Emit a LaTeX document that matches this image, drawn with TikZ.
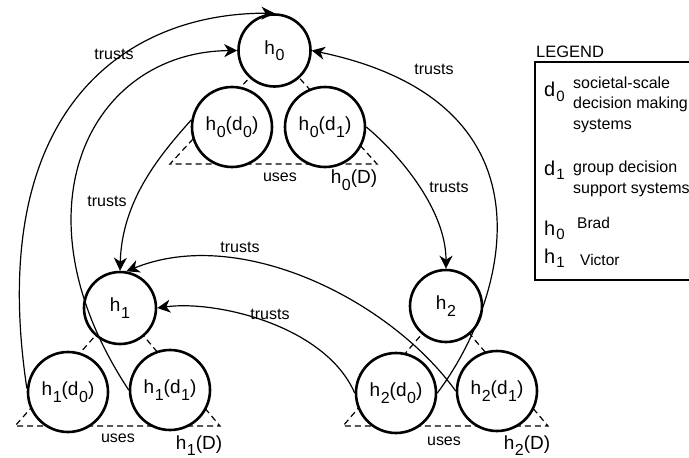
\documentclass[tikz,border=0pt]{standalone}
\usepackage{fontspec}
\setmainfont{Liberation Sans}
\usetikzlibrary{arrows.meta}
\pgfdeclarelayer{background}
\pgfsetlayers{background,main}
% lowered index digit, as in h_0
\newcommand\lsub[2][6.5pt]{\kern0.6pt\raisebox{-#1}{\fontsize{16}{16}\selectfont #2}}
\newcommand\legsub[1]{\kern1pt\raisebox{-4.5pt}{\fontsize{15}{15}\selectfont #1}}

\begin{document}
\begin{tikzpicture}[x=1pt,y=-1pt,
  agent/.style={circle,draw,line width=2.6pt,fill=white,inner sep=0pt,
    minimum size=72pt,font=\fontsize{19}{19}\selectfont},
  system/.style={agent,minimum size=80pt},
  trust/.style={line width=1.2pt,-{Stealth[length=13pt,width=13pt,inset=4pt]}},
  usage/.style={line width=1.2pt,dash pattern=on 6pt off 4pt},
  word/.style={font=\fontsize{16}{16}\selectfont,inner sep=0pt},
  setname/.style={font=\fontsize{19}{19}\selectfont,inner sep=0pt},
  legsym/.style={font=\fontsize{20}{20}\selectfont,inner sep=0pt,anchor=base west},
  legtext/.style={font=\fontsize{16}{16}\selectfont,inner sep=0pt,anchor=base west},
  legname/.style={font=\fontsize{15.5}{15.5}\selectfont,inner sep=0pt,anchor=base west},
]
\useasboundingbox (0,0) rectangle (689,458);
\clip (0,0) rectangle (689,458);

% people and their decision systems
\node[agent]  (h0)   at (274.5,50.5) {h\lsub{0}};
\node[system] (h0d0) at (232,127) {h\lsub{0}(d\lsub{0})};
\node[system] (h0d1) at (325,127) {h\lsub{0}(d\lsub{1})};

\node[agent]  (h1)   at (120,308) {h\lsub{1}};
\node[system] (h1d0) at (68,392)  {h\lsub{1}(d\lsub{0})};
\node[system] (h1d1) at (170,390) {h\lsub{1}(d\lsub{1})};

\node[agent]  (h2)   at (446,306) {h\lsub{2}};
\node[system] (h2d0) at (396,393) {h\lsub{2}(d\lsub{0})};
\node[system] (h2d1) at (497,391) {h\lsub{2}(d\lsub{1})};

% corners of the dashed "uses" triangles
\coordinate (u0l) at (170,164);
\coordinate (u0r) at (377,164);
\coordinate (u1l) at (15,426);
\coordinate (u1r) at (220,426);
\coordinate (u2l) at (343,426);
\coordinate (u2r) at (548,426);

\begin{pgfonlayer}{background}
  \draw[usage] (h0.center) -- (u0l) -- (u0r) -- cycle;
  \draw[usage] (h1.center) -- (u1l) -- (u1r) -- cycle;
  \draw[usage] (h2.center) -- (u2l) -- (u2r) -- cycle;
\end{pgfonlayer}

\node[word] (use0) at (280,177) {uses};
\node[word] (use1) at (118,438) {uses};
\node[word] (use2) at (444,441) {uses};
\node[setname] (set0) at (354,180) {h\lsub{0}(D)};
\node[setname] (set1) at (199,445.5) {h\lsub{1}(D)};
\node[setname] (set2) at (527,445.5) {h\lsub{2}(D)};

% trust relations
\draw[trust] (h1d0.175) .. controls (-15,110) and (125,13) .. (h0.north);
\draw[trust] (h1d1.west) .. controls (10,210) and (90,52) .. (h0.west);
\draw[trust] (h2d0.east) .. controls (504,305) and (567,104) .. (h0.east);
\draw[trust] (h0d0.170) .. controls (160,155) and (122,200) .. (h1.north);
\draw[trust] (h0d1.east) .. controls (400,155) and (446,210) .. (h2.north);
\draw[trust] (h2d1.west) .. controls (390,300) and (240,225) .. (h1.80);
\draw[trust] (h2d0.west) .. controls (325,325) and (215,300) .. (h1.east);

\node[word] (t1) at (114,54)  {trusts};
\node[word] (t2) at (107,201) {trusts};
\node[word] (t3) at (434,69)  {trusts};
\node[word] (t4) at (449,187) {trusts};
\node[word] (t5) at (240,247) {trusts};
\node[word] (t6) at (270,314) {trusts};

% legend
\node[font=\fontsize{16.5}{16.5}\selectfont,inner sep=0pt,anchor=base west] (legtitle) at (536,57) {LEGEND};
\draw[line width=1.2pt] (535,62) rectangle (700,280);
\node[legsym] (ld0) at (544,96.5) {d\legsub{0}};
\node[legtext] (ld0a) at (573,88.3) {societal-scale};
\node[legtext] (ld0b) at (573,108.5) {decision making};
\node[legtext] (ld0c) at (573,129.5) {systems};
\node[legsym] (ld1) at (544,175) {d\legsub{1}};
\node[legtext] (ld1a) at (573,172.3) {group decision};
\node[legtext] (ld1b) at (573,193.3) {support systems};
\node[legsym] (lh0) at (544,235) {h\legsub{0}};
\node[legname] (lh0a) at (577,228.3) {Brad};
\node[legsym] (lh1) at (544,263) {h\legsub{1}};
\node[legname] (lh1a) at (580,265) {Victor};
\end{tikzpicture}
\end{document}
